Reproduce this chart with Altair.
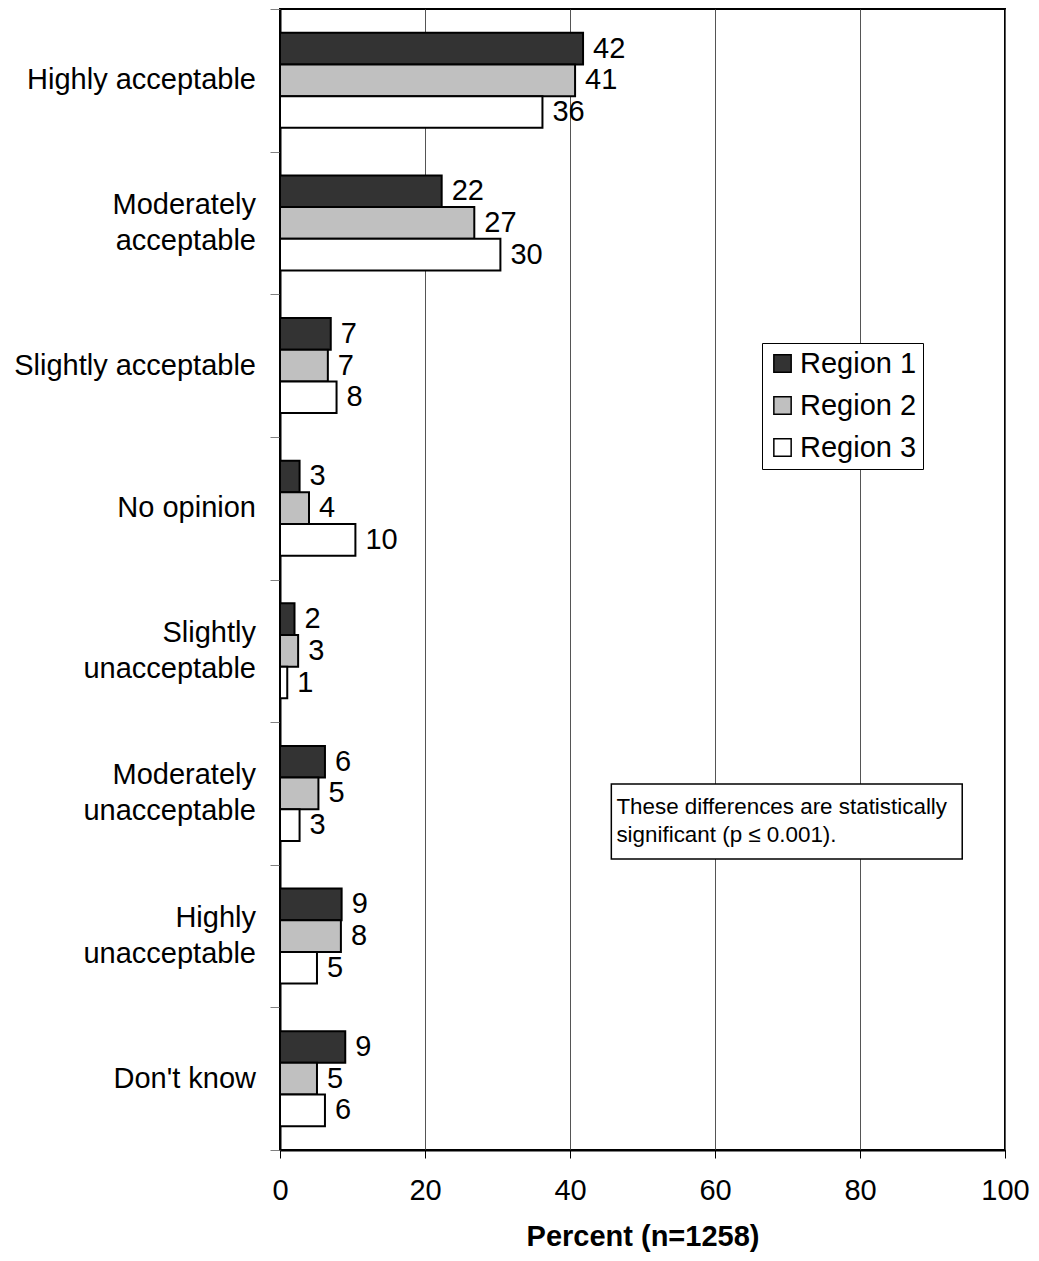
import altair as alt
import pandas as pd

categories = ["Highly acceptable", "Moderately acceptable", "Slightly acceptable", "No opinion",
              "Slightly unacceptable", "Moderately unacceptable", "Highly unacceptable", "Don't know"]
cat_line1 = ["Highly acceptable", "Moderately", "Slightly acceptable", "No opinion",
             "Slightly", "Moderately", "Highly", "Don't know"]
cat_line2 = ["", "acceptable", "", "", "unacceptable", "unacceptable", "unacceptable", ""]
regions = ["Region 1", "Region 2", "Region 3"]
region1 = [41.8, 22.3, 7.0, 2.7, 2.0, 6.2, 8.5, 9.0]
region2 = [40.7, 26.8, 6.6, 4.0, 2.5, 5.3, 8.4, 5.1]
region3 = [36.2, 30.4, 7.8, 10.4, 1.0, 2.7, 5.1, 6.2]
labels1 = [42, 22, 7, 3, 2, 6, 9, 9]
labels2 = [41, 27, 7, 4, 3, 5, 8, 5]
labels3 = [36, 30, 8, 10, 1, 3, 5, 6]
fills = ["#333333", "#c0c0c0", "#ffffff"]
x_ticks = [0, 20, 40, 60, 80, 100]
x_title = "Percent (n=1258)"
note_lines = ["These differences are statistically", "significant (p \u2264 0.001)."]

rows = []
for reg, vals, labs in zip(regions, [region1, region2, region3], [labels1, labels2, labels3]):
    for c, v, l in zip(categories, vals, labs):
        rows.append({"category": c, "region": reg, "value": v, "label": str(l)})
df = pd.DataFrame(rows)
cat_df = pd.DataFrame({"category": categories, "line1": cat_line1, "line2": cat_line2,
                       "two": [1 if s else 0 for s in cat_line2]})

FONT = "Liberation Sans"
FS = 29

y_enc = alt.Y("category:N", sort=categories,
              scale=alt.Scale(paddingInner=0, paddingOuter=0),
              axis=alt.Axis(title=None, tickBand="extent", tickSize=10, tickColor="#808080",
                            tickWidth=1, domainColor="black", domainWidth=2,
                            labels=False, grid=False))
yoff_enc = alt.YOffset("region:N", sort=regions,
                       scale=alt.Scale(paddingInner=0, paddingOuter=0.75))
x_enc = alt.X("value:Q", scale=alt.Scale(domain=[0, 100], nice=False),
              axis=alt.Axis(values=x_ticks, title=x_title, titleFontSize=29,
                            titleFontWeight="bold", titleFont=FONT, titleColor="black",
                            titlePadding=17, labelFontSize=FS, labelFont=FONT,
                            labelColor="black", labelPadding=18, labelFlush=False,
                            tickSize=8, tickColor="black", tickWidth=1, domainColor="black",
                            domainWidth=2, grid=True, gridColor="#555555", gridWidth=1))

base = alt.Chart(df)

bars = base.mark_bar(stroke="black", strokeWidth=2).encode(
    x=x_enc,
    y=y_enc,
    yOffset=yoff_enc,
    color=alt.Color("region:N", scale=alt.Scale(domain=regions, range=fills),
                    legend=alt.Legend(title=None, orient="none", legendX=482, legendY=334,
                                      strokeColor="black", fillColor="white", padding=6,
                                      labelFontSize=FS, labelFont=FONT, labelColor="black",
                                      symbolType="square", symbolSize=300,
                                      symbolStrokeColor="black", symbolStrokeWidth=1.5,
                                      symbolOpacity=1, rowPadding=12, labelOffset=3)),
)

texts = base.mark_text(align="left", baseline="middle", dx=10, fontSize=FS,
                       font=FONT, color="black").encode(
    x="value:Q",
    y=alt.Y("category:N", sort=categories),
    yOffset=alt.YOffset("region:N", sort=regions),
    text="label:N",
)

# category labels (axis-style text to the left of the plot)
cat_base = alt.Chart(cat_df)
cat_style = dict(align="right", baseline="middle", fontSize=FS, font=FONT, color="black")
cat_single = cat_base.transform_filter("datum.two == 0").mark_text(**cat_style).encode(
    x=alt.value(-24), y=alt.Y("category:N", sort=categories), text="line1:N")
cat_top = cat_base.transform_filter("datum.two == 1").mark_text(dy=-18, **cat_style).encode(
    x=alt.value(-24), y=alt.Y("category:N", sort=categories), text="line1:N")
cat_bottom = cat_base.transform_filter("datum.two == 1").mark_text(dy=18, **cat_style).encode(
    x=alt.value(-24), y=alt.Y("category:N", sort=categories), text="line2:N")

note_df = pd.DataFrame({"x": [45.7], "x2": [94.1], "tx": [46.4]})
note_box = alt.Chart(note_df).mark_rect(fill="white", stroke="black", strokeWidth=1.5).encode(
    x="x:Q", x2="x2:Q", y=alt.value(775), y2=alt.value(850))
note_text = alt.Chart(note_df).mark_text(align="left", baseline="middle", fontSize=22.4,
                                         font=FONT, color="black", lineHeight=28,
                                         text=note_lines).encode(
    x="tx:Q", y=alt.value(798))

chart = alt.layer(bars, texts, cat_single, cat_top, cat_bottom, note_box, note_text).properties(
    width=725, height=1141,
    autosize=alt.AutoSizeParams(type="none"),
    padding={"left": 272, "top": 1, "right": 25, "bottom": 103},
).configure(font=FONT, background="white").configure_view(stroke="black", strokeWidth=2)

chart.save("out.html", embed_options={"renderer": "svg", "actions": False})
